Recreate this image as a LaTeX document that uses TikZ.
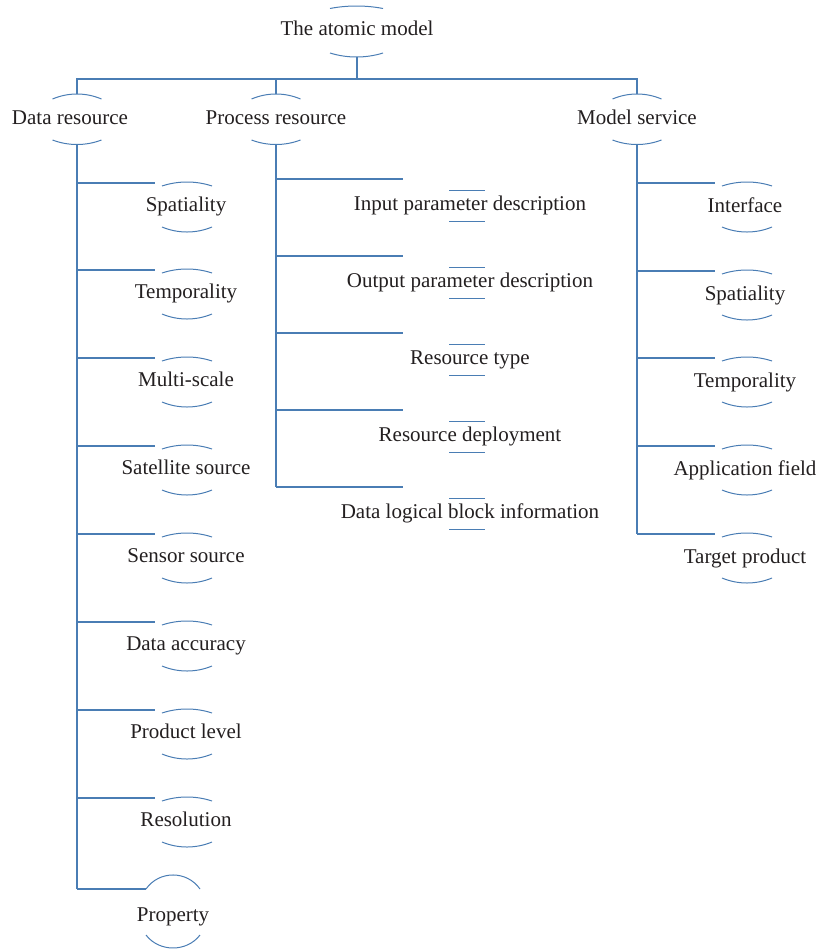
\documentclass[tikz,border=0pt]{standalone}
\usepackage{fontspec}
\setmainfont{Liberation Serif}
\definecolor{ln}{RGB}{74,125,180}
\definecolor{txc}{RGB}{35,31,32}
% circular-looking cap arc: centre x, half width, end y, control y offset
\newcommand{\capArc}[4]{\draw[capline] (#1-#2,#3) .. controls (#1-0.36*#2,#3+#4) and (#1+0.36*#2,#3+#4) .. (#1+#2,#3);}
\begin{document}
\begin{tikzpicture}[x=1pt,y=-1pt,
  lbl/.style={font=\fontsize{21}{25}\selectfont, text=txc, inner sep=0pt, anchor=base},
  conn/.style={draw=ln, line width=1.3pt},
  trunk/.style={draw=ln, line width=1.7pt},
  capline/.style={draw=ln, line width=1pt}]
\useasboundingbox (0,0) rectangle (818,951);

% root
\node[lbl] (root) at (357,35) {The atomic model};
\capArc{356.5}{26.5}{8.5}{-3.33}
\capArc{356.5}{26.5}{53}{5.33}
\coordinate (root-b) at (357,57);
\coordinate (bus) at (357,79);

% level 1
\foreach \n/\cx/\px/\t in {dr/77/70/Data resource, pr/276/276/Process resource, ms/637/637/Model service}{
  \node[lbl] (\n) at (\px,124) {\t};
  \capArc{\cx}{24.5}{99}{-6.67}
  \capArc{\cx}{24.5}{140}{6}
  \coordinate (\n-t) at (\cx,94);
  \coordinate (\n-b) at (\cx,145);
}
\draw[trunk] (root-b) -- (bus);
\draw[conn] (dr-t) |- (ms-t |- bus) -- (ms-t);
\draw[conn] (pr-t |- bus) -- (pr-t);

% left column
\foreach \n/\L/\t in {la/183/Spatiality, lb/270/Temporality, lc/358/Multi-scale, ld/446/Satellite source, le/534/Sensor source, lf/622/Data accuracy, lg/710/Product level, lh/798/Resolution}{
  \node[lbl] (\n) at (186,\L+28) {\t};
  \capArc{187}{25}{\L+3}{-5.33}
  \capArc{187}{25}{\L+44}{6.67}
  \coordinate (\n-w) at (155,\L);
  \draw[conn] (dr-b |- \n-w) -- (\n-w);
}
\node[lbl] (pp) at (173,921) {Property};
\draw[capline] (146,889) .. controls (159.1,870.3) and (186.9,870.3) .. (200,889);
\draw[capline] (146,935) .. controls (159.1,952.3) and (186.9,952.3) .. (200,935);
\coordinate (pp-w) at (146,889);
\draw[trunk] (dr-b) -- (dr-b |- pp-w);
\draw[conn] (dr-b |- pp-w) -- (pp-w);

% middle column
\foreach \n/\L/\t in {ma/179/Input parameter description, mb/256/Output parameter description, mc/333/Resource type, md/410/Resource deployment, me/487/Data logical block information}{
  \node[lbl] (\n) at (470,\L+31) {\t};
  \draw[capline] (449,\L+11) -- (485,\L+11);
  \draw[capline] (449,\L+42) -- (485,\L+42);
  \coordinate (\n-w) at (403,\L);
  \draw[conn] (pr-b |- \n-w) -- (\n-w);
}
\draw[trunk] (pr-b) -- (pr-b |- me-w);

% right column
\foreach \n/\L/\t in {ra/183/Interface, rb/271/Spatiality, rc/358/Temporality, rd/446/Application field, re/534/Target product}{
  \node[lbl] (\n) at (745,\L+29) {\t};
  \capArc{747}{25}{\L+3}{-5.33}
  \capArc{747}{25}{\L+44}{6.67}
  \coordinate (\n-w) at (715,\L);
  \draw[conn] (ms-b |- \n-w) -- (\n-w);
}
\draw[trunk] (ms-b) -- (ms-b |- re-w);
\end{tikzpicture}
\end{document}
